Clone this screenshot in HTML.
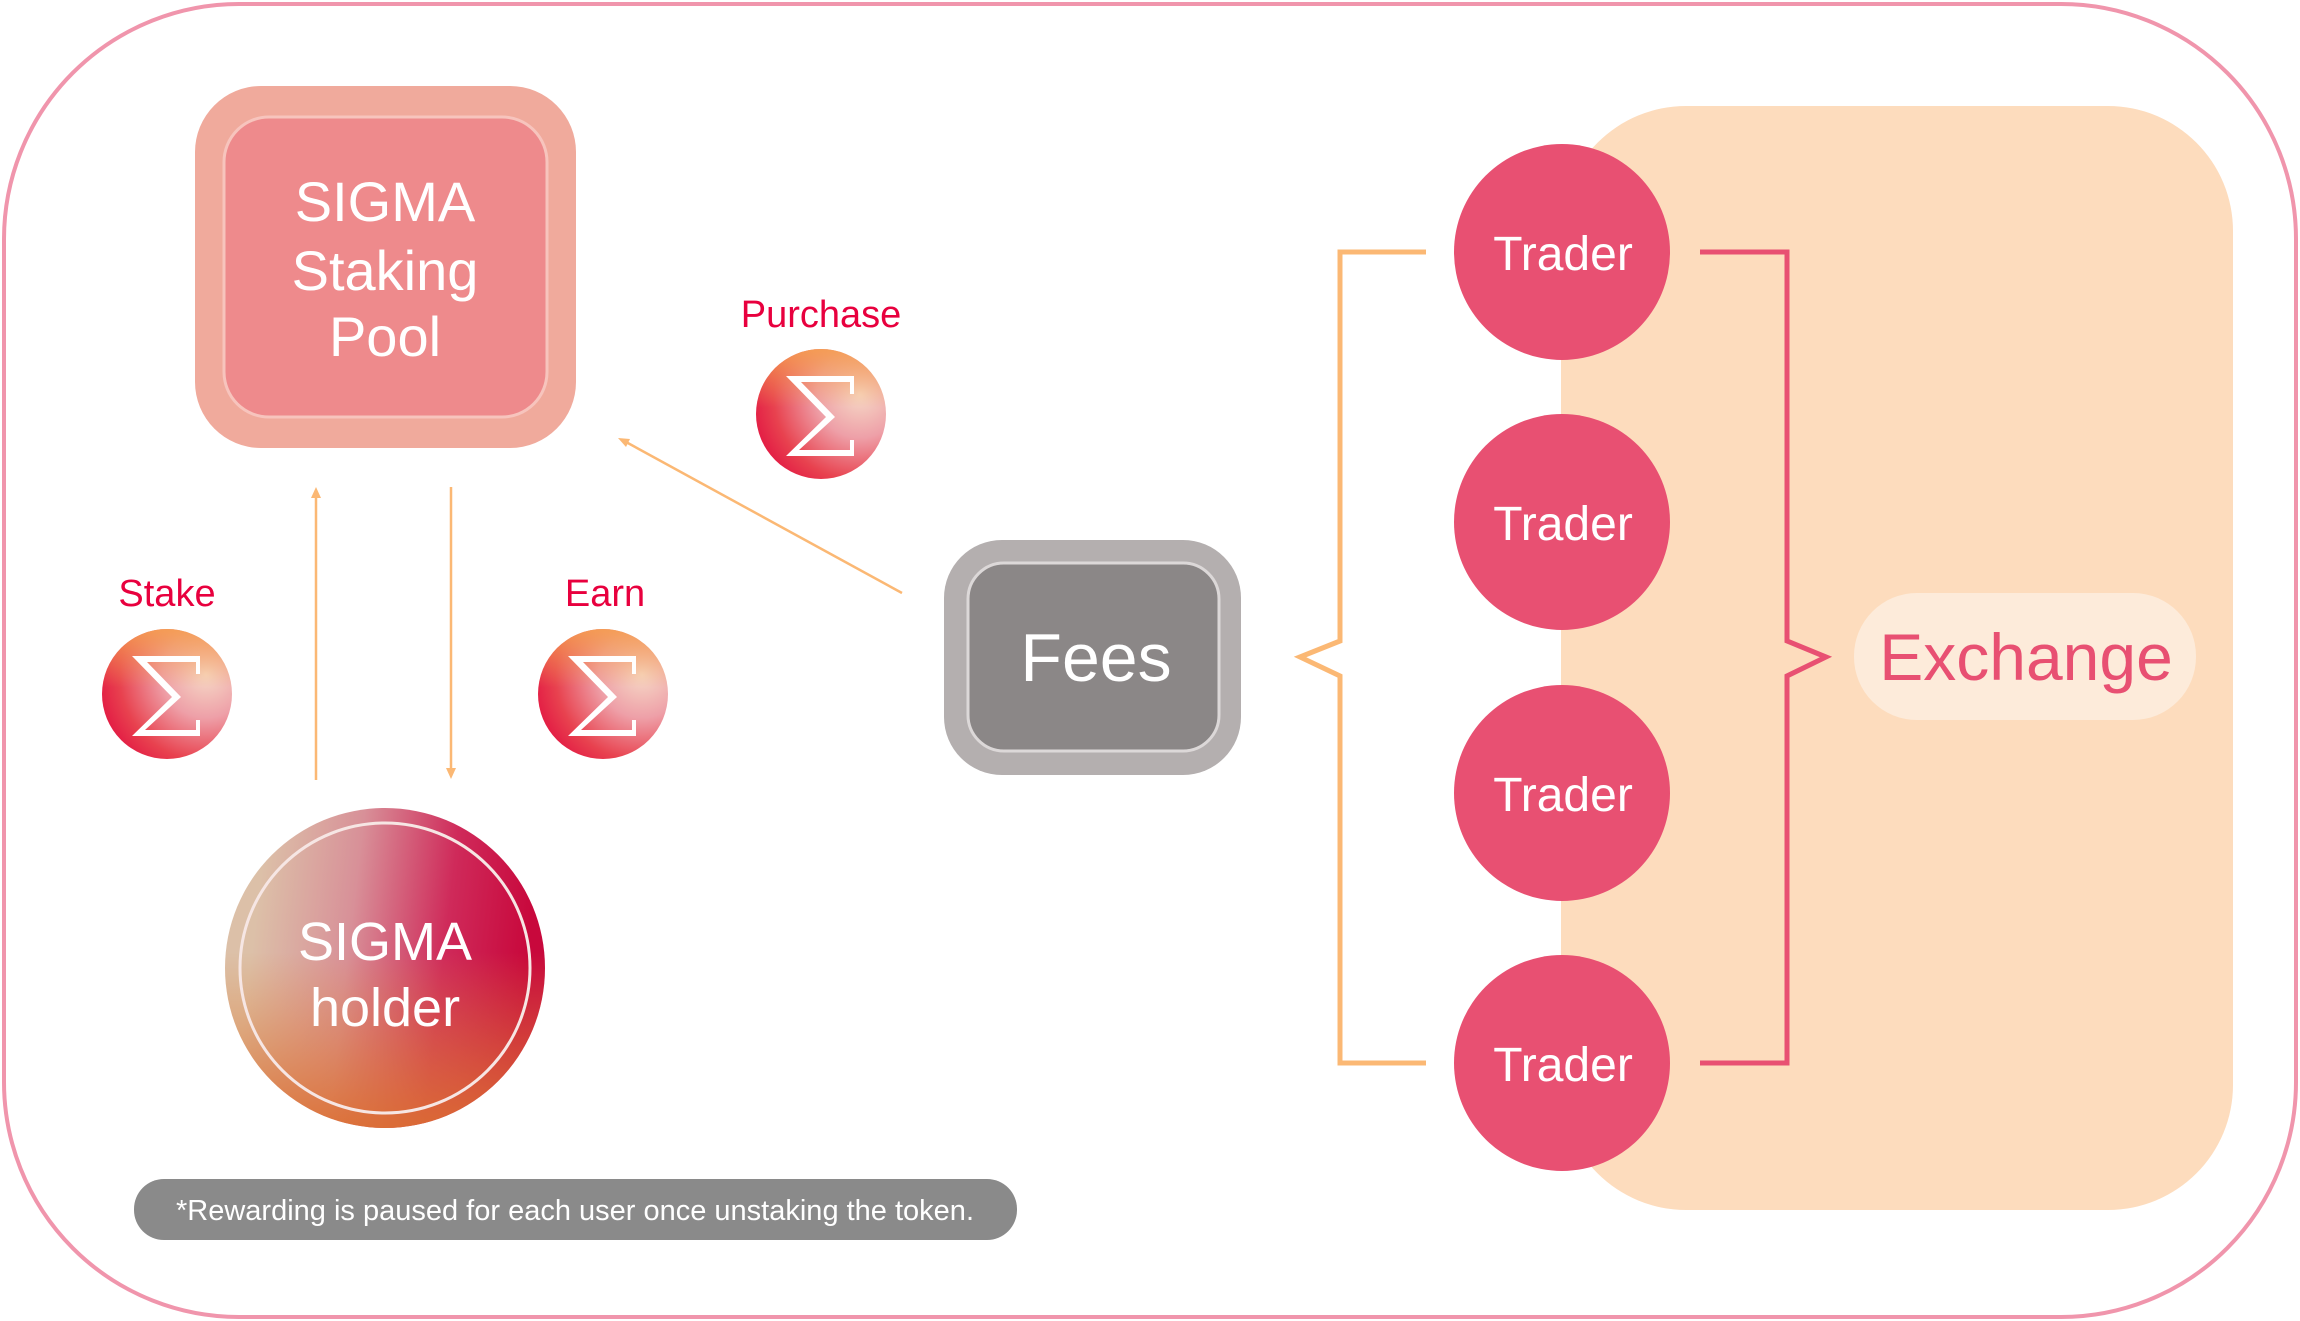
<!DOCTYPE html>
<html><head><meta charset="utf-8"><style>
html,body{margin:0;padding:0;background:#fff}
svg{display:block}
text{font-family:"Liberation Sans",sans-serif}
</style></head><body>
<svg width="2300" height="1321" viewBox="0 0 2300 1321" xmlns="http://www.w3.org/2000/svg">
<defs>
<radialGradient id="coin" cx="0.8" cy="0.35" r="0.95">
<stop offset="0" stop-color="#f6d9c6"/>
<stop offset="0.35" stop-color="#eea0a8"/>
<stop offset="0.7" stop-color="#e8424f"/>
<stop offset="1" stop-color="#e0063e"/>
</radialGradient>
<linearGradient id="coinTop" x1="0" y1="0" x2="0" y2="1">
<stop offset="0" stop-color="#f5a050" stop-opacity="0.9"/>
<stop offset="0.45" stop-color="#f5a050" stop-opacity="0"/>
</linearGradient>
<linearGradient id="holdA" x1="0.1" y1="0.3" x2="0.95" y2="0.4">
<stop offset="0" stop-color="#dcc0a8"/>
<stop offset="0.35" stop-color="#d89098"/>
<stop offset="0.7" stop-color="#cf2a5a"/>
<stop offset="1" stop-color="#c8083c"/>
</linearGradient>
<linearGradient id="holdB" x1="0" y1="0" x2="0" y2="1">
<stop offset="0.45" stop-color="#e08a40" stop-opacity="0"/>
<stop offset="1" stop-color="#dc7030" stop-opacity="0.9"/>
</linearGradient>
<g id="sig">
<circle r="65" fill="url(#coin)"/>
<circle r="65" fill="url(#coinTop)"/>
<polygon fill="#fff" points="-35,-38 33,-38 33,-20 29,-20 29,-32 -20,-32 14,3 -22,36 29,36 29,26 33,26 33,42 -35,42 5,3"/>
</g>
</defs>

<rect x="4" y="4" width="2292" height="1313" rx="235" fill="#fff" stroke="#f095ac" stroke-width="4"/>

<!-- Exchange bg -->
<rect x="1561" y="106" width="672" height="1104" rx="125" fill="#fddcbd"/>

<!-- Staking pool -->
<rect x="195" y="86" width="381" height="362" rx="66" fill="#f0aa9c"/>
<rect x="224" y="117" width="323" height="300" rx="45" fill="#ee8a8c" stroke="#f7c4bd" stroke-width="3"/>
<text x="385" y="221" font-size="56" fill="#fff" text-anchor="middle">SIGMA</text>
<text x="385" y="290" font-size="56" fill="#fff" text-anchor="middle">Staking</text>
<text x="385" y="356" font-size="56" fill="#fff" text-anchor="middle">Pool</text>

<!-- labels & coins -->
<text x="821" y="327" font-size="38" fill="#e8003e" text-anchor="middle">Purchase</text>
<use href="#sig" x="821" y="414"/>
<text x="167" y="606" font-size="38" fill="#e8003e" text-anchor="middle">Stake</text>
<use href="#sig" x="167" y="694"/>
<text x="605" y="606" font-size="38" fill="#e8003e" text-anchor="middle">Earn</text>
<use href="#sig" x="603" y="694"/>

<!-- arrows -->
<g stroke="#fbb874" stroke-width="2.5" fill="#fbb874">
<line x1="316" y1="780" x2="316" y2="496"/>
<polygon points="316,487 311,498 321,498" stroke="none"/>
<line x1="451" y1="487" x2="451" y2="770"/>
<polygon points="451,779 446,768 456,768" stroke="none"/>
<line x1="902" y1="593" x2="626" y2="442"/>
<polygon points="618,438 630,439 626,447" stroke="none"/>
</g>

<!-- Fees -->
<rect x="944" y="540" width="297" height="235" rx="58" fill="#b4afaf"/>
<rect x="968" y="563" width="251" height="188" rx="36" fill="#8b8787" stroke="#dcd8d8" stroke-width="3"/>
<text x="1096" y="681" font-size="68" fill="#fff" text-anchor="middle">Fees</text>

<!-- holder -->
<circle cx="385" cy="968" r="160" fill="url(#holdA)"/>
<circle cx="385" cy="968" r="160" fill="url(#holdB)"/>
<circle cx="385" cy="968" r="145" fill="none" stroke="#f6e6e4" stroke-width="3"/>
<text x="385" y="960" font-size="54" fill="#fff" text-anchor="middle">SIGMA</text>
<text x="385" y="1026" font-size="54" fill="#fff" text-anchor="middle">holder</text>

<!-- note -->
<rect x="134" y="1179" width="883" height="61" rx="30" fill="#8a8a8a"/>
<text x="575" y="1220" font-size="29" fill="#fff" text-anchor="middle">*Rewarding is paused for each user once unstaking the token.</text>

<!-- brackets -->
<polyline points="1426,252 1340,252 1340,641 1300,657 1340,676 1340,1063 1426,1063" fill="none" stroke="#fbb874" stroke-width="5"/>
<polyline points="1700,252 1787,252 1787,641 1826,657 1787,676 1787,1063 1700,1063" fill="none" stroke="#e85072" stroke-width="5"/>

<!-- traders -->
<g fill="#e85072">
<circle cx="1562" cy="252" r="108"/>
<circle cx="1562" cy="522" r="108"/>
<circle cx="1562" cy="793" r="108"/>
<circle cx="1562" cy="1063" r="108"/>
</g>
<g font-size="48" fill="#fff" text-anchor="middle">
<text x="1563" y="270">Trader</text>
<text x="1563" y="540">Trader</text>
<text x="1563" y="811">Trader</text>
<text x="1563" y="1081">Trader</text>
</g>

<!-- exchange pill -->
<rect x="1854" y="593" width="342" height="127" rx="63" fill="#fdebda"/>
<text x="2026" y="680" font-size="66" fill="#e85072" text-anchor="middle">Exchange</text>
</svg>
</body></html>
